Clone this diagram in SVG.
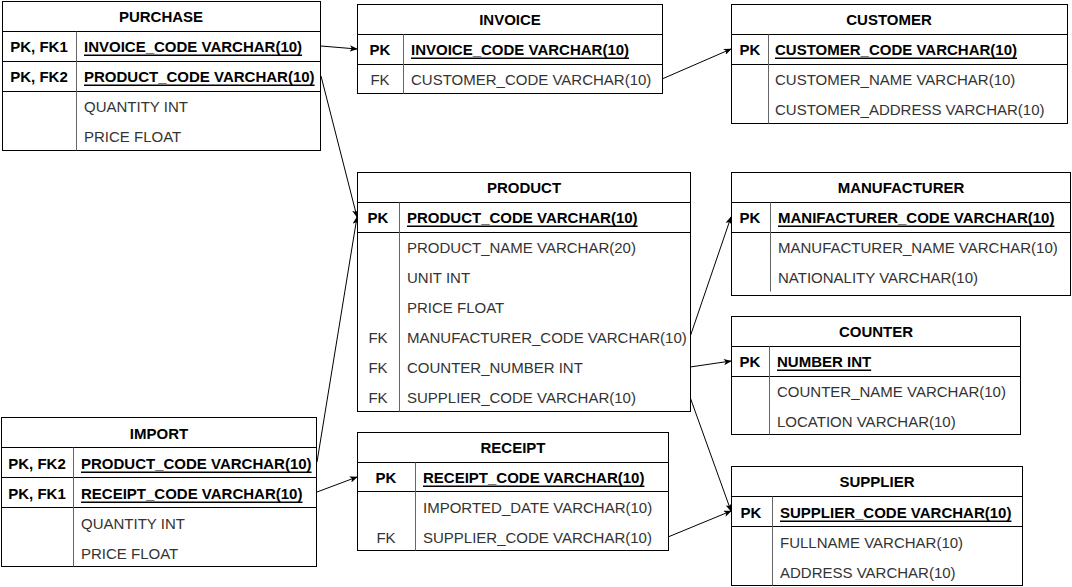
<svg xmlns="http://www.w3.org/2000/svg" width="1072" height="587" viewBox="0 0 1072 587">
<defs>
<style>
text{font-family:"Liberation Sans",Arial,sans-serif;font-size:15px;dominant-baseline:central}
.box{fill:#fff;stroke:#000;stroke-width:1}
.sep{stroke:#000;stroke-width:1}
.div{stroke:#666;stroke-width:1}
.h{font-weight:bold;text-anchor:middle;fill:#000}
.k{font-weight:bold;text-anchor:middle;fill:#000}
.f{text-anchor:middle;fill:#333}
.pk{font-weight:bold;fill:#000;text-decoration:underline}
.t{fill:#333}
.c{fill:none;stroke:#000;stroke-width:1}
</style>
<marker id="arr" viewBox="0 0 10 8" refX="9" refY="4" markerWidth="8" markerHeight="6.4" markerUnits="userSpaceOnUse" orient="auto">
<path d="M0,0 L10,4 L0,8 L2.5,4 z" fill="#000"/>
</marker>
</defs>

<g id="connectors">
<line class="c" x1="321" y1="46" x2="357" y2="49" marker-end="url(#arr)"/>
<line class="c" x1="662" y1="79" x2="731" y2="49" marker-end="url(#arr)"/>
<line class="c" x1="321" y1="76" x2="357" y2="217" marker-end="url(#arr)"/>
<line class="c" x1="317" y1="462" x2="357" y2="217" marker-end="url(#arr)"/>
<line class="c" x1="317" y1="492" x2="357" y2="477" marker-end="url(#arr)"/>
<line class="c" x1="690" y1="337" x2="731" y2="217" marker-end="url(#arr)"/>
<line class="c" x1="690" y1="367" x2="731" y2="361" marker-end="url(#arr)"/>
<line class="c" x1="690" y1="397" x2="731" y2="511" marker-end="url(#arr)"/>
<line class="c" x1="668" y1="537" x2="731" y2="511" marker-end="url(#arr)"/>
</g>

<g id="purchase">
<rect class="box" x="2.5" y="1.5" width="318" height="149"/>
<line class="sep" x1="2.5" y1="31.5" x2="320.5" y2="31.5"/>
<line class="sep" x1="2.5" y1="61.5" x2="320.5" y2="61.5"/>
<line class="sep" x1="2.5" y1="91.5" x2="320.5" y2="91.5"/>
<line class="div" x1="76.5" y1="31.5" x2="76.5" y2="150.5"/>
<text class="h" x="161" y="16">PURCHASE</text>
<text class="k" x="39" y="46">PK, FK1</text>
<text class="pk" x="84" y="46">INVOICE_CODE VARCHAR(10)</text>
<text class="k" x="39" y="76">PK, FK2</text>
<text class="pk" x="84" y="76">PRODUCT_CODE VARCHAR(10)</text>
<text class="t" x="84" y="106">QUANTITY INT</text>
<text class="t" x="84" y="136">PRICE FLOAT</text>
</g>

<g id="invoice">
<rect class="box" x="357.5" y="4.5" width="305" height="89"/>
<line class="sep" x1="357.5" y1="34.5" x2="662.5" y2="34.5"/>
<line class="sep" x1="357.5" y1="64.5" x2="662.5" y2="64.5"/>
<line class="div" x1="403.5" y1="34.5" x2="403.5" y2="93.5"/>
<text class="h" x="510" y="19">INVOICE</text>
<text class="k" x="380" y="49">PK</text>
<text class="pk" x="411" y="49">INVOICE_CODE VARCHAR(10)</text>
<text class="f" x="380" y="79">FK</text>
<text class="t" x="411" y="79">CUSTOMER_CODE VARCHAR(10)</text>
</g>

<g id="customer">
<rect class="box" x="731.5" y="4.5" width="336" height="119"/>
<line class="sep" x1="731.5" y1="34.5" x2="1067.5" y2="34.5"/>
<line class="sep" x1="731.5" y1="64.5" x2="1067.5" y2="64.5"/>
<line class="div" x1="768.5" y1="34.5" x2="768.5" y2="123.5"/>
<text class="h" x="889" y="19">CUSTOMER</text>
<text class="k" x="750" y="49">PK</text>
<text class="pk" x="775" y="49">CUSTOMER_CODE VARCHAR(10)</text>
<text class="t" x="775" y="79">CUSTOMER_NAME VARCHAR(10)</text>
<text class="t" x="775" y="109">CUSTOMER_ADDRESS VARCHAR(10)</text>
</g>

<g id="product">
<rect class="box" x="357.5" y="172.5" width="333" height="239"/>
<line class="sep" x1="357.5" y1="202.5" x2="690.5" y2="202.5"/>
<line class="sep" x1="357.5" y1="232.5" x2="690.5" y2="232.5"/>
<line class="div" x1="399.5" y1="202.5" x2="399.5" y2="411.5"/>
<text class="h" x="524" y="187">PRODUCT</text>
<text class="k" x="378" y="217">PK</text>
<text class="pk" x="407" y="217">PRODUCT_CODE VARCHAR(10)</text>
<text class="t" x="407" y="247">PRODUCT_NAME VARCHAR(20)</text>
<text class="t" x="407" y="277">UNIT INT</text>
<text class="t" x="407" y="307">PRICE FLOAT</text>
<text class="f" x="378" y="337">FK</text>
<text class="t" x="407" y="337">MANUFACTURER_CODE VARCHAR(10)</text>
<text class="f" x="378" y="367">FK</text>
<text class="t" x="407" y="367">COUNTER_NUMBER INT</text>
<text class="f" x="378" y="397">FK</text>
<text class="t" x="407" y="397">SUPPLIER_CODE VARCHAR(10)</text>
</g>

<g id="manufacturer">
<rect class="box" x="731.5" y="172.5" width="339" height="123"/>
<line class="sep" x1="731.5" y1="202.5" x2="1070.5" y2="202.5"/>
<line class="sep" x1="731.5" y1="232.5" x2="1070.5" y2="232.5"/>
<line class="div" x1="770.5" y1="202.5" x2="770.5" y2="291.5"/>
<text class="h" x="901" y="187">MANUFACTURER</text>
<text class="k" x="750" y="217">PK</text>
<text class="pk" x="778" y="217">MANIFACTURER_CODE VARCHAR(10)</text>
<text class="t" x="778" y="247">MANUFACTURER_NAME VARCHAR(10)</text>
<text class="t" x="778" y="277">NATIONALITY VARCHAR(10)</text>
</g>

<g id="counter">
<rect class="box" x="731.5" y="316.5" width="289" height="118"/>
<line class="sep" x1="731.5" y1="346.5" x2="1020.5" y2="346.5"/>
<line class="sep" x1="731.5" y1="376.5" x2="1020.5" y2="376.5"/>
<line class="div" x1="769.5" y1="346.5" x2="769.5" y2="434.5"/>
<text class="h" x="876" y="331">COUNTER</text>
<text class="k" x="750" y="361">PK</text>
<text class="pk" x="777" y="361">NUMBER INT</text>
<text class="t" x="777" y="391">COUNTER_NAME VARCHAR(10)</text>
<text class="t" x="777" y="421">LOCATION VARCHAR(10)</text>
</g>

<g id="import">
<rect class="box" x="1.5" y="417.5" width="315" height="149"/>
<line class="sep" x1="1.5" y1="447.5" x2="316.5" y2="447.5"/>
<line class="sep" x1="1.5" y1="477.5" x2="316.5" y2="477.5"/>
<line class="sep" x1="1.5" y1="507.5" x2="316.5" y2="507.5"/>
<line class="div" x1="73.5" y1="447.5" x2="73.5" y2="566.5"/>
<text class="h" x="159" y="433">IMPORT</text>
<text class="k" x="37" y="463">PK, FK2</text>
<text class="pk" x="81" y="463">PRODUCT_CODE VARCHAR(10)</text>
<text class="k" x="37" y="493">PK, FK1</text>
<text class="pk" x="81" y="493">RECEIPT_CODE VARCHAR(10)</text>
<text class="t" x="81" y="523">QUANTITY INT</text>
<text class="t" x="81" y="553">PRICE FLOAT</text>
</g>

<g id="receipt">
<rect class="box" x="357.5" y="432.5" width="311" height="118"/>
<line class="sep" x1="357.5" y1="462.5" x2="668.5" y2="462.5"/>
<line class="sep" x1="357.5" y1="491.5" x2="668.5" y2="491.5"/>
<line class="div" x1="415.5" y1="462.5" x2="415.5" y2="550.5"/>
<text class="h" x="513" y="447">RECEIPT</text>
<text class="k" x="386" y="477">PK</text>
<text class="pk" x="423" y="477">RECEIPT_CODE VARCHAR(10)</text>
<text class="t" x="423" y="507">IMPORTED_DATE VARCHAR(10)</text>
<text class="f" x="386" y="537">FK</text>
<text class="t" x="423" y="537">SUPPLIER_CODE VARCHAR(10)</text>
</g>

<g id="supplier">
<rect class="box" x="731.5" y="466.5" width="291" height="119"/>
<line class="sep" x1="731.5" y1="496.5" x2="1022.5" y2="496.5"/>
<line class="sep" x1="731.5" y1="526.5" x2="1022.5" y2="526.5"/>
<line class="div" x1="772.5" y1="496.5" x2="772.5" y2="585.5"/>
<text class="h" x="877" y="481">SUPPLIER</text>
<text class="k" x="751" y="512">PK</text>
<text class="pk" x="780" y="512">SUPPLIER_CODE VARCHAR(10)</text>
<text class="t" x="780" y="542">FULLNAME VARCHAR(10)</text>
<text class="t" x="780" y="572">ADDRESS VARCHAR(10)</text>
</g>
</svg>
